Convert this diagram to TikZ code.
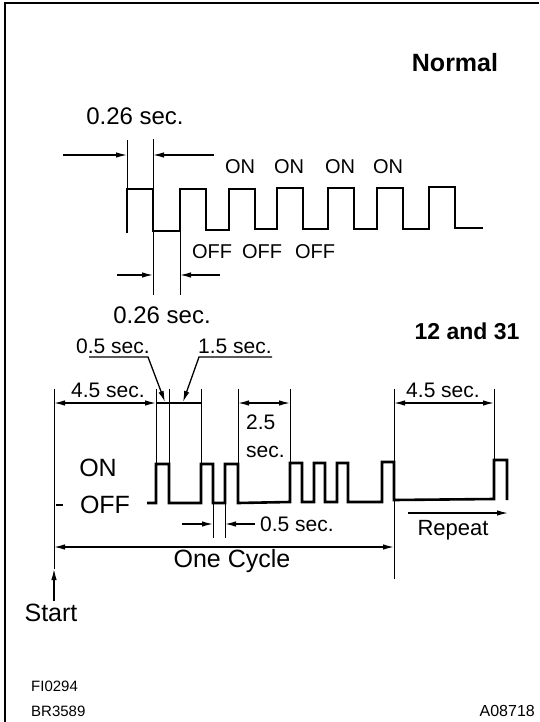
\documentclass[tikz,border=0pt]{standalone}
\usepackage{fontspec}
\setmainfont{Liberation Sans}
\usetikzlibrary{arrows.meta}
\begin{document}
\begin{tikzpicture}[x=1pt,y=-1pt,
  >={Latex[length=11pt,width=5.5pt]},
  wave/.style={line width=2.6pt,line join=miter},
  ext/.style={line width=0.9pt},
  dimline/.style={line width=1.3pt},
  lbl/.style={inner sep=0pt,font=\fontsize{#1}{#1}\selectfont},
  lbl/.default=20,
  bold/.style={inner sep=0pt,font=\bfseries\fontsize{#1}{#1}\selectfont}]
\useasboundingbox (0,0) rectangle (539,722);
% frame
\draw[line width=2pt] (5,722) -- (5,3) -- (539,3);
\node[bold=25] (normal) at (455,63) {Normal};

% ---------- Normal waveform ----------
\draw[ext] (127,140) -- (127,189);
\draw[ext] (153,139) -- (153,295);
\draw[ext] (180,231) -- (180,295);
\draw[wave] (127,233) -- (127,189) -- (153,189) -- (153,231) -- (180,231) -- (180,189)
  -- (206,189) -- (206,230) -- (229,230) -- (229,189) -- (255,189) -- (255,229)
  -- (277,229) -- (277,188) -- (303,188) -- (303,229) -- (328,229) -- (328,188)
  -- (354,188) -- (354,229) -- (377,229) -- (377,188) -- (403,188) -- (403,229)
  -- (429,229) -- (429,187) -- (455,187) -- (455,228) -- (483,228);
\coordinate (na1) at (63,155);  \coordinate (na1e) at (127,155);
\coordinate (na2) at (214,155); \coordinate (na2e) at (153,155);
\coordinate (nb1) at (117,275); \coordinate (nb1e) at (153,275);
\coordinate (nb2) at (220,275); \coordinate (nb2e) at (180,275);
\draw[dimline,->] (na1) -- (na1e);
\draw[dimline,->] (na2) -- (na2e);
\draw[dimline,->] (nb1) -- (nb1e);
\draw[dimline,->] (nb2) -- (nb2e);
\node[lbl=24] (t026a) at (135,116) {0.26 sec.};
\node[lbl=24] (t026b) at (162,315) {0.26 sec.};
\node[lbl] (on1) at (240,167) {ON};
\node[lbl] (on2) at (289,167) {ON};
\node[lbl] (on3) at (340,167) {ON};
\node[lbl] (on4) at (388,167) {ON};
\node[lbl] (off1) at (212,252) {OFF};
\node[lbl] (off2) at (262,252) {OFF};
\node[lbl] (off3) at (315,252) {OFF};

% ---------- 12 and 31 ----------
\node[bold=23] (code) at (467,331) {12 and 31};
\node[lbl=21] (t05a) at (113,346) {0.5 sec.};
\node[lbl=21] (t15) at (235,346) {1.5 sec.};
\coordinate (u05s) at (89,357);  \coordinate (u05e) at (148,357); \coordinate (u05t) at (165,402);
\coordinate (u15s) at (272,357); \coordinate (u15e) at (199,357); \coordinate (u15t) at (183,402);
\draw[dimline,->] (u05s) -- (u05e) -- (u05t);
\draw[dimline,->] (u15s) -- (u15e) -- (u15t);

% extension lines
\draw[ext] (54,389) -- (54,569);
\draw[ext] (156,389) -- (156,464);
\draw[ext] (169,389) -- (169,464);
\draw[ext] (201,389) -- (201,464);
\draw[ext] (238,389) -- (238,464);
\draw[ext] (290,389) -- (290,463);
\draw[ext] (394,389) -- (394,579);
\draw[ext] (494,389) -- (494,460);
\draw[ext] (213,503) -- (213,538);
\draw[ext] (225,503) -- (225,538);

% waveform
\draw[wave] (147,503) -- (156,503) -- (156,464) -- (169,464) -- (169,503) -- (201,503)
  -- (201,464) -- (213,464) -- (213,503) -- (225,503) -- (225,464) -- (238,464)
  -- (238,503) -- (290,502) -- (290,463) -- (302,463) -- (302,502) -- (314,502)
  -- (314,463) -- (325,463) -- (325,502) -- (337,502) -- (337,463) -- (348,463)
  -- (348,502) -- (382,502) -- (382,462) -- (394,462) -- (394,500) -- (494,499)
  -- (494,460) -- (507,460) -- (507,500);

% dimensions
\draw[dimline,<->] (54,403) -- (156,403);
\draw[dimline] (156,403) -- (201,403);
\draw[dimline,<->] (238,403) -- (290,403);
\draw[dimline,<->] (394,403) -- (494,403);
\draw[dimline,->] (182,524) -- (213,524);
\draw[dimline,->] (255,524) -- (225,524);
\draw[dimline,<->] (54,547) -- (394,547);
\draw[dimline,->] (408,513) -- (508,513);
\draw[dimline,->] (54,601) -- (54,569);
\draw[line width=2pt] (56,505) -- (63,505);

\node[lbl=21] (t45a) at (108,390) {4.5 sec.};
\node[lbl=21] (t45b) at (443,390) {4.5 sec.};
\node[lbl=21,anchor=west] (t25) at (246,422) {2.5};
\node[lbl=21,anchor=west] (t25s) at (246,452) {sec.};
\node[lbl=25] (onb) at (98,468) {ON};
\node[lbl=25] (offb) at (105,505) {OFF};
\node[lbl=21,anchor=west] (t05b) at (260,524) {0.5 sec.};
\node[lbl=22] (rep) at (453,530) {Repeat};
\node[lbl=25] (cyc) at (232,561) {One Cycle};
\node[lbl=25] (start) at (51,613) {Start};
\node[lbl=15,anchor=west] (fi) at (31,686) {FI0294};
\node[lbl=15,anchor=west] (br) at (31,711) {BR3589};
\node[lbl=16,anchor=east] (aa) at (535,711) {A08718};
\end{tikzpicture}
\end{document}
